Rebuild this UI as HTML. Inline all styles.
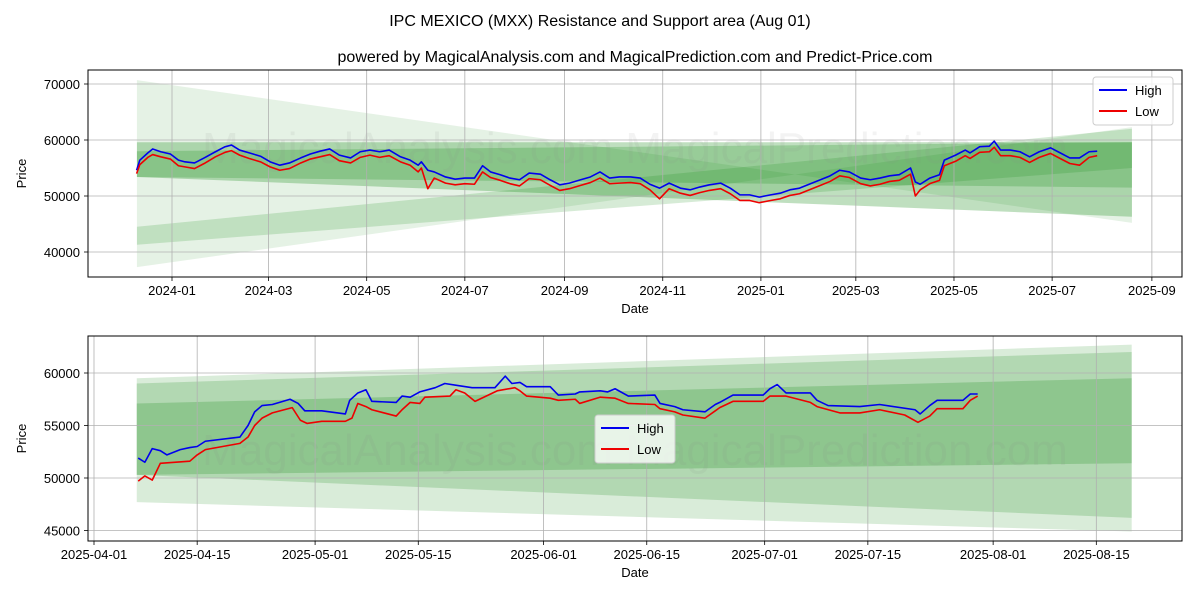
<!DOCTYPE html>
<html><head><meta charset="utf-8"><style>
body{margin:0;background:#fff;}
svg{display:block;font-family:"Liberation Sans","DejaVu Sans",sans-serif;}
</style></head><body>
<svg id="chart" width="1200" height="600" viewBox="0 0 1200 600">
<text x="600" y="26" text-anchor="middle" font-size="16">IPC MEXICO (MXX) Resistance and Support area (Aug 01)</text>
<text x="635" y="62" text-anchor="middle" font-size="16">powered by MagicalAnalysis.com and MagicalPrediction.com and Predict-Price.com</text>
<g id="top"></g>
<g id="bot"></g>
</svg>
<script>
// ---- top chart data (days since 2024-01-01) ----
const topDays=[-22,-20,-15,-12,-7,-1,4,8,14,20,27,33,37,42,48,55,61,67,73,80,86,92,98,104,111,117,123,129,135,142,148,153,155,159,163,170,176,182,188,193,198,204,210,216,222,229,235,241,247,254,260,266,272,278,285,291,297,303,309,316,322,328,334,341,347,353,359,365,372,378,384,390,396,403,409,415,421,428,434,440,446,452,459,462,465,471,477,480,487,493,496,502,508,511,515,521,527,533,539,546,552,558,564,570,575];
const topHigh=[54600,56400,57700,58400,57900,57500,56400,56100,55900,56800,57900,58800,59100,58200,57700,57100,56100,55500,55900,56800,57500,58000,58400,57300,56800,57900,58200,57900,58200,57000,56400,55500,56100,54600,54300,53400,53000,53200,53200,55400,54300,53800,53200,52900,54100,53900,52900,52000,52300,52900,53400,54300,53200,53400,53400,53200,52100,51400,52300,51400,51100,51600,52000,52300,51400,50200,50200,49800,50200,50500,51100,51400,52100,52900,53600,54600,54300,53200,52900,53200,53600,53800,55000,52500,52100,53200,53800,56400,57300,58200,57700,58800,58900,59800,58200,58200,57900,57000,57900,58600,57700,56800,56800,57900,58000];
const topLow=[54000,55600,56900,57400,57000,56600,55400,55200,54900,55800,57000,57800,58100,57300,56700,56100,55200,54600,54900,55900,56600,57000,57400,56300,55900,56900,57300,56900,57200,56100,55500,54300,55000,51300,53200,52300,52000,52200,52100,54300,53300,52800,52200,51800,53100,52900,51900,51000,51300,51900,52400,53200,52200,52300,52400,52200,51100,49500,51300,50500,50100,50600,51000,51300,50400,49200,49200,48800,49200,49500,50100,50400,51100,51900,52600,53600,53300,52200,51800,52100,52600,52800,53900,50000,51100,52200,52800,55400,56200,57200,56700,57800,57900,58700,57200,57200,56900,56000,56900,57600,56700,55800,55500,56900,57200];
const topXTicks=[0,60,121,182,244,305,366,425,486,547,609];
const topXLabels=["2024-01","2024-03","2024-05","2024-07","2024-09","2024-11","2025-01","2025-03","2025-05","2025-07","2025-09"];
const topYTicks=[40000,50000,60000,70000];
// ---- bottom chart data (days since 2025-04-01) ----
const botHighDays=[6,6.9,7.9,9,9.9,11.7,13,14,15.1,19.8,20.9,21.8,22.8,24.2,26.6,27.7,28.6,30.9,34.1,34.7,35.8,36.9,37.7,41,41.8,42.9,44.2,46.3,47.6,49.4,51.3,54.4,55.8,56.7,57.8,58.7,61.9,63,65.3,65.9,68.7,69.7,70.7,72.5,76.1,76.8,78.8,79.9,82.9,84.3,84.9,86.7,90.8,91.7,92.7,93.9,97.2,98.1,99.6,103.9,106.6,111.4,112.1,113.4,114.4,117.9,118.9,119.9];
const botHigh=[51900,51500,52800,52600,52200,52700,52900,53000,53500,53900,55000,56300,56900,57000,57500,57100,56400,56400,56100,57400,58100,58400,57300,57200,57800,57700,58200,58600,59000,58800,58600,58600,59700,59000,59100,58700,58700,57900,58000,58200,58300,58200,58500,57800,57900,57100,56800,56500,56300,57000,57200,57900,57900,58500,58900,58100,58100,57400,56900,56800,57000,56500,56100,56900,57400,57400,58000,58000];
const botLowDays=[6,6.9,7.9,9,13,14,15.1,19.8,20.9,21.8,22.8,24.2,26.9,28,28.9,30.9,34.1,35,35.8,36.9,37.7,41,41.8,42.9,44.2,44.9,48.3,49.1,50.3,51.7,54.7,57.1,57.8,58.7,61.9,63,65.3,65.9,68.7,70.7,72.5,76.1,76.8,78.8,79.9,82.9,84.3,84.9,86.7,90.8,91.7,93.9,97.2,98.1,101.2,103.9,106.6,110,111.8,113.4,114.4,117.9,118.9,119.9];
const botLow=[49700,50200,49800,51400,51600,52200,52700,53300,53900,55000,55700,56200,56700,55500,55200,55400,55400,55700,57100,56800,56500,55900,56500,57200,57100,57700,57800,58400,58100,57300,58300,58600,58300,57800,57600,57400,57500,57100,57700,57600,57100,57000,56600,56300,56000,55700,56400,56700,57300,57300,57800,57800,57200,56800,56200,56200,56500,56000,55300,55900,56600,56600,57400,57800];
const botXTicks=[0,14,30,44,61,75,91,105,122,136];
const botXLabels=["2025-04-01","2025-04-15","2025-05-01","2025-05-15","2025-06-01","2025-06-15","2025-07-01","2025-07-15","2025-08-01","2025-08-15"];
const botYTicks=[45000,50000,55000,60000];

const NS="http://www.w3.org/2000/svg";
function mk(parent,tag,attrs,text){const e=document.createElementNS(NS,tag);for(const k in attrs)e.setAttribute(k,attrs[k]);if(text!==undefined)e.textContent=text;parent.appendChild(e);return e;}

function drawChart(g,cfg){
  const {x0,x1,y0,y1,sx,sy}=cfg;
  cfg.bands.forEach((b,i)=>{
    const p=mk(g,'polygon',{points:`${sx(cfg.bs)},${sy(b[0])} ${sx(cfg.be)},${sy(b[1])} ${sx(cfg.be)},${sy(b[3])} ${sx(cfg.bs)},${sy(b[2])}`,fill:'rgb(0,128,0)','fill-opacity':b[4]});
    
    
  });
  const w=mk(g,'text',{x:(x0+x1)/2,y:cfg.wmY,'text-anchor':'middle','font-size':44,fill:'#888','fill-opacity':0.1},'MagicalAnalysis.com    MagicalPrediction.com');
  
  
  cfg.xt.forEach((d,i)=>{
    const X=sx(d);
    mk(g,'line',{x1:X,x2:X,y1:y0,y2:y1,stroke:'#b0b0b0','stroke-width':0.8});
    mk(g,'line',{x1:X,x2:X,y1:y1,y2:y1+4,stroke:'#000','stroke-width':0.8});
    const t=mk(g,'text',{x:X,y:y1+18,'text-anchor':'middle','font-size':13},cfg.xl[i]);
    
    
  });
  cfg.yt.forEach(v=>{
    const Y=sy(v);
    mk(g,'line',{x1:x0,x2:x1,y1:Y,y2:Y,stroke:'#b0b0b0','stroke-width':0.8});
    mk(g,'line',{x1:x0-4,x2:x0,y1:Y,y2:Y,stroke:'#000','stroke-width':0.8});
    const t=mk(g,'text',{x:x0-8,y:Y+5,'text-anchor':'end','font-size':13},String(v));
    
    
  });
  const line=(days,vals,col,name)=>{
    const pl=mk(g,'polyline',{points:days.map((d,i)=>sx(d)+','+sy(vals[i])).join(' '),fill:'none',stroke:col,'stroke-width':1.6,'stroke-linejoin':'round'});
    
    
  };
  line(cfg.hd,cfg.h,'#0000ee','high-line');
  line(cfg.ld,cfg.l,'#ee0000','low-line');
  const fr=mk(g,'rect',{x:x0,y:y0,width:x1-x0,height:y1-y0,fill:'none',stroke:'#000','stroke-width':1});
  
  
  const xt=mk(g,'text',{x:(x0+x1)/2,y:y1+36,'text-anchor':'middle','font-size':13},'Date');
  
  
  const yt=mk(g,'text',{x:26,y:(y0+y1)/2,'text-anchor':'middle','font-size':13,transform:`rotate(-90 26 ${(y0+y1)/2})`},'Price');
  
  
  const L=mk(g,'g',{});
  
  
  const lx=cfg.lx,ly=cfg.ly;
  mk(L,'rect',{x:lx,y:ly,width:80,height:48,rx:3,fill:'#fff','fill-opacity':0.8,stroke:'#ccc'});
  mk(L,'line',{x1:lx+6,x2:lx+34,y1:ly+13,y2:ly+13,stroke:'#0000ee','stroke-width':2});
  mk(L,'text',{x:lx+42,y:ly+18,'font-size':13},'High');
  mk(L,'line',{x1:lx+6,x2:lx+34,y1:ly+34,y2:ly+34,stroke:'#ee0000','stroke-width':2});
  mk(L,'text',{x:lx+42,y:ly+39,'font-size':13},'Low');
}

drawChart(document.getElementById('top'),{
  x0:88,x1:1182,y0:70,y1:277,
  sx:d=>172+d*1.609, sy:v=>84+(70000-v)*0.0056,
  bs:-21.8,be:596.6,
  bands:[[70700,45200,37300,62300,0.1],[59600,59600,53400,46300,0.25],[44500,62000,41300,55000,0.16],[58000,59600,53400,51500,0.2]],
  wmY:163,xt:topXTicks,xl:topXLabels,yt:topYTicks,
  hd:topDays,h:topHigh,ld:topDays,l:topLow,lx:1093,ly:77
});
drawChart(document.getElementById('bot'),{
  x0:88,x1:1182,y0:336,y1:541,
  sx:d=>94+d*7.37, sy:v=>373+(60000-v)*0.0105,
  bs:5.8,be:140.8,
  bands:[[59500,62700,47700,44900,0.15],[59000,62000,50300,46200,0.18],[57100,59500,50300,51400,0.2]],
  wmY:465,xt:botXTicks,xl:botXLabels,yt:botYTicks,
  hd:botHighDays,h:botHigh,ld:botLowDays,l:botLow,lx:595,ly:415
});
</script>
</body></html>
